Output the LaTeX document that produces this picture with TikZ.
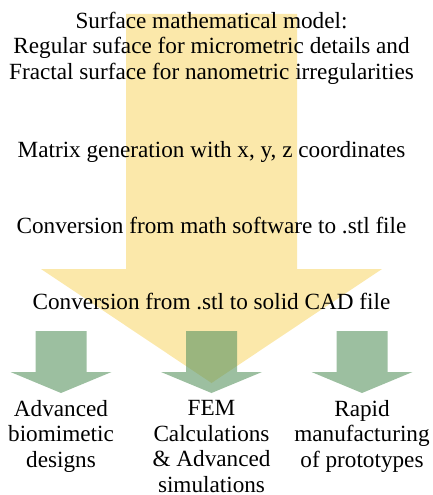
\documentclass[tikz,border=0pt]{standalone}
\usepackage{fontspec}
\setmainfont{Liberation Serif}
\usepackage{tikz}
\usetikzlibrary{positioning}
\definecolor{softyellow}{RGB}{251, 232, 170}
\definecolor{sagegreen}{RGB}{90, 148, 97}

\begin{document}
\begin{tikzpicture}[
    x=1pt, y=-1pt,
    step text/.style={anchor=base, inner sep=0pt, align=center,
                      font=\fontsize{23.2}{25.5}\selectfont},
    bigarrow/.style={fill=softyellow, draw=none},
    smallarrow/.style={fill=sagegreen, fill opacity=0.6, draw=none}
]
    \useasboundingbox (0,0) rectangle (432,495);

    % main flow arrow
    \fill[bigarrow] (126,14) -- (297,14) -- (297,269) -- (382,269)
        -- (211.5,383) -- (41,269) -- (126,269) -- cycle;

    % three output arrows
    \foreach \cx in {61, 211.5, 362} {
        \fill[smallarrow] (\cx-25.5,331) -- (\cx+25.5,331) -- (\cx+25.5,372)
            -- (\cx+50.5,372) -- (\cx,393) -- (\cx-50.5,372)
            -- (\cx-25.5,372) -- cycle;
    }

    % base of a multi-line node is its last line
    \node[step text] (model) at (211.5,79)
        {Surface mathematical model:\\
         Regular suface for micrometric details and\\
         Fractal surface for nanometric irregularities};
    \node[step text] (matrix) at (211.5,157)
        {Matrix generation with x, y, z coordinates};
    \node[step text] (stl) at (211.5,233)
        {Conversion from math software to .stl file};
    \node[step text] (cad) at (211.5,309)
        {Conversion from .stl to solid CAD file};

    \node[step text] (design) at (61,467)
        {Advanced\\biomimetic\\designs};
    \node[step text] (fem) at (211.5,492)
        {FEM\\Calculations\\\& Advanced\\simulations};
    \node[step text] (rapid) at (362,467)
        {Rapid\\manufacturing\\of prototypes};
\end{tikzpicture}
\end{document}
